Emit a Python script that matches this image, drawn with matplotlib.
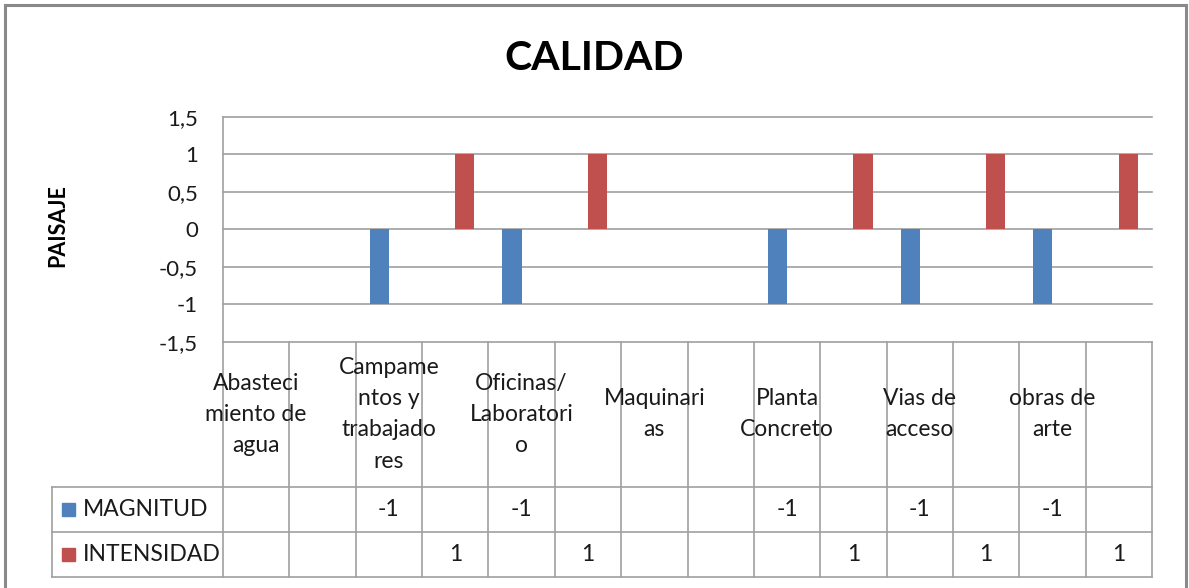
import numpy as np
import matplotlib
matplotlib.use("Agg")
import matplotlib.pyplot as plt
from matplotlib.patches import Rectangle

plt.rcParams['font.family'] = ['Lato', 'DejaVu Sans']

# ---- data ----
categories = ["Abasteci\nmiento de\nagua", "", "Campame\nntos y\ntrabajado\nres", "",
              "Oficinas/\nLaboratori\no", "", "Maquinari\nas", "", "Planta\nConcreto", "",
              "Vias de\nacceso", "", "obras de\narte", ""]
nan = np.nan
magnitud = [nan, nan, -1, nan, -1, nan, nan, nan, -1, nan, -1, nan, -1, nan]
intensidad = [nan, nan, nan, 1, nan, 1, nan, nan, nan, 1, nan, 1, nan, 1]
series_names = ["MAGNITUD", "INTENSIDAD"]
series_colors = ["#4F81BD", "#C0504D"]
y_ticks = [-1.5, -1, -0.5, 0, 0.5, 1, 1.5]
y_ticklabels = ["-1,5", "-1", "-0,5", "0", "0,5", "1", "1,5"]
title = "CALIDAD"
ylabel = "PAISAJE"

# ---- layout ----
W, H = 1189, 588
def fx(p): return p / W
def fy(p): return 1 - p / H

grid_col = "#a0a0a0"
txt_col = "#1a1a1a"
fs = 16.5

fig = plt.figure(figsize=(W / 100, H / 100), dpi=100)

# outer frame
fig.patches.append(Rectangle((fx(5), fy(600)), fx(1186) - fx(5), fy(5) - fy(600),
                             transform=fig.transFigure, fill=False,
                             edgecolor="#8a8a8a", linewidth=2.2))

PL, PR, PT, PB = 223, 1152, 117, 341.7
ax = fig.add_axes([fx(PL), fy(PB), fx(PR) - fx(PL), fy(PT) - fy(PB)])
n = len(categories)
x = np.arange(n)
ax.set_xlim(-0.5, n - 0.5)
ax.set_ylim(-1.5, 1.5)
w = 0.29
ax.bar(x - w / 2, magnitud, width=w, color=series_colors[0], zorder=3)
ax.bar(x + w / 2, intensidad, width=w, color=series_colors[1], zorder=3)
ax.set_yticks(y_ticks)
ax.set_yticklabels(y_ticklabels)
ax.set_xticks([])
ax.tick_params(axis='y', length=0, pad=18, labelsize=16, labelcolor=txt_col)
for yv in y_ticks:
    ax.axhline(yv, color=grid_col, linewidth=1.2, zorder=1, clip_on=False)
for s in ["top", "right", "bottom"]:
    ax.spines[s].set_visible(False)
ax.spines["left"].set_color(grid_col)
ax.spines["left"].set_linewidth(1.2)

fig.text(fx(594), fy(58), title, ha="center", va="center", fontsize=29.5,
         fontweight="bold", color="#000000")
fig.text(fx(58), fy(226), ylabel, ha="center", va="center", fontsize=15.5,
         fontweight="bold", rotation=90, color="#000000")

# ---- data table ----
TL, TB = 52, 576.7
R1, R2 = 487, 531.7
colw = (PR - PL) / n
x0 = -0.5 - (PL - TL) / colw
tax = fig.add_axes([fx(TL), fy(TB), fx(PR) - fx(TL), fy(PB) - fy(TB)])
tax.set_xlim(x0, n - 0.5)
tax.set_ylim(TB, PB)
tax.axis("off")
lk = dict(color=grid_col, linewidth=1.2, clip_on=False)
for yy in (R1, R2, TB):
    tax.plot([x0, n - 0.5], [yy, yy], **lk)
for k in range(n + 1):
    tax.plot([k - 0.5, k - 0.5], [PB, TB], **lk)
tax.plot([x0, x0], [R1, TB], **lk)

hdr_c = (PB + R1) / 2
for i, c in enumerate(categories):
    if c:
        tax.text(i, hdr_c, c, ha="center", va="center", fontsize=fs,
                 color=txt_col, linespacing=1.6, multialignment="center")

rows = [magnitud, intensidad]
row_c = [(R1 + R2) / 2, (R2 + TB) / 2]
for r, vals in enumerate(rows):
    for i, v in enumerate(vals):
        if not np.isnan(v):
            tax.text(i, row_c[r], f"{v:g}", ha="center", va="center",
                     fontsize=fs, color=txt_col)
    tax.add_patch(Rectangle((x0 + 10 / colw, row_c[r] - 6.5), 13 / colw, 13,
                            color=series_colors[r], clip_on=False))
    tax.text(x0 + 31 / colw, row_c[r], series_names[r], ha="left", va="center",
             fontsize=fs, color=txt_col)

fig.savefig("out.png", dpi=100)
